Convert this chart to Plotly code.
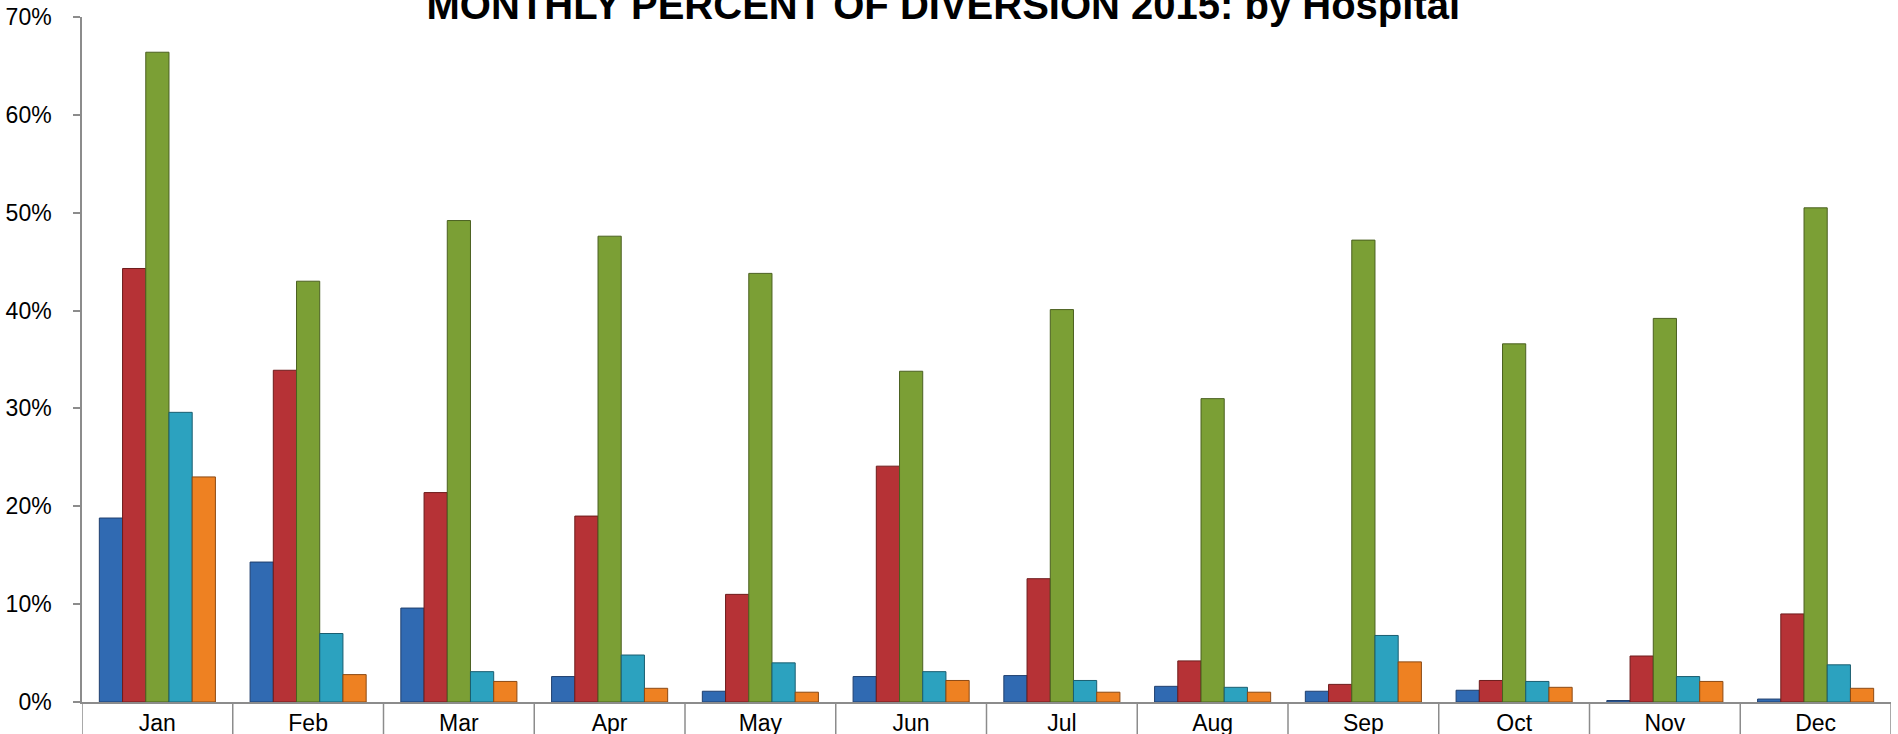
import plotly.graph_objs as go

months = ['Jan', 'Feb', 'Mar', 'Apr', 'May', 'Jun', 'Jul', 'Aug', 'Sep', 'Oct', 'Nov', 'Dec']
hospital_a = [18.8, 14.3, 9.6, 2.6, 1.1, 2.6, 2.7, 1.6, 1.1, 1.2, 0.15, 0.3]
hospital_b = [44.3, 33.9, 21.4, 19.0, 11.0, 24.1, 12.6, 4.2, 1.8, 2.2, 4.7, 9.0]
hospital_c = [66.4, 43.0, 49.2, 47.6, 43.8, 33.8, 40.1, 31.0, 47.2, 36.6, 39.2, 50.5]
hospital_d = [29.6, 7.0, 3.1, 4.8, 4.0, 3.1, 2.2, 1.5, 6.8, 2.1, 2.6, 3.8]
hospital_e = [23.0, 2.8, 2.1, 1.4, 1.0, 2.2, 1.0, 1.0, 4.1, 1.5, 2.1, 1.4]

series = [
    ('Hospital A', hospital_a, '#306ab2', '#1f3f6e'),
    ('Hospital B', hospital_b, '#b63236', '#6e1c1c'),
    ('Hospital C', hospital_c, '#7b9f35', '#4b6020'),
    ('Hospital D', hospital_d, '#2ca2bf', '#1a5e70'),
    ('Hospital E', hospital_e, '#ee8122', '#8c4a14'),
]

fig = go.Figure()

for name, vals, color, edge in series:
    fig.add_trace(go.Bar(x=months, y=[v / 100 for v in vals], name=name,
                         marker=dict(color=color, line=dict(color=edge, width=1))))

# category separators below the axis (like excel's long tick marks)
for i in range(len(months) + 1):
    fig.add_shape(type='line', xref='x', yref='paper', x0=i - 0.5, x1=i - 0.5, y0=0, y1=-0.05,
                  line=dict(color='#8c8c8c', width=1.5))

fig.update_layout(
    width=1898, height=734,
    margin=dict(l=82, r=7, t=17, b=32),
    paper_bgcolor='white', plot_bgcolor='white',
    barmode='group', bargap=0.23, bargroupgap=0,
    showlegend=False,
    font=dict(family='Liberation Sans', color='black'),
    title=dict(text='<b>MONTHLY PERCENT OF DIVERSION 2015: by Hospital</b>',
               font=dict(size=40, family='Liberation Sans', color='black'),
               x=0.497, xanchor='center', y=0.993, yanchor='middle'),
)

fig.update_yaxes(range=[0, 0.7], dtick=0.1, tickformat='.0%', showgrid=False, zeroline=False,
                 showline=True, linecolor='#8c8c8c', linewidth=1.5, automargin=False,
                 ticks='outside', ticklen=7, tickcolor='#8c8c8c', tickwidth=1.5,
                 ticklabelstandoff=17, tickfont=dict(size=23, color='black'))
fig.update_xaxes(showgrid=False, showline=True, linecolor='#8c8c8c', linewidth=1.5,
                 ticks='', ticklabelstandoff=0, tickfont=dict(size=23, color='black'),
                 automargin=False, range=[-0.5, 11.5])

# drop the default page margin so the figure sits at the window's corner
fig.write_html("out.html", config={'displayModeBar': False},
               post_script="document.body.style.margin='0';document.body.style.overflow='hidden';")
